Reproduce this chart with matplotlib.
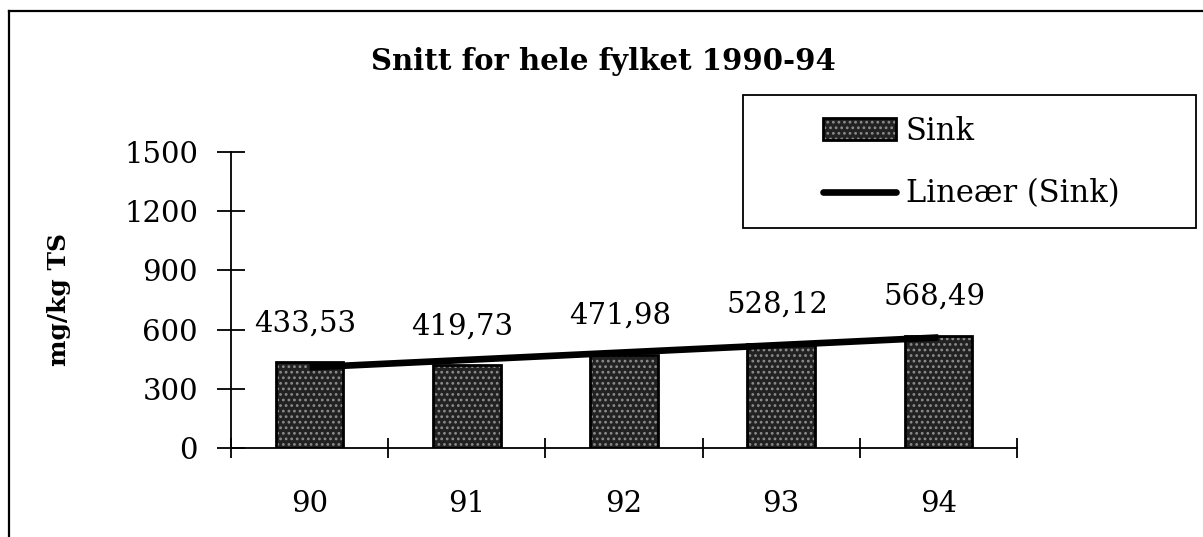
import numpy as np
import matplotlib
matplotlib.use("Agg")
import matplotlib.pyplot as plt
from matplotlib.patches import Patch, Rectangle
from matplotlib.lines import Line2D
from matplotlib.legend_handler import HandlerTuple

# ---- data ----
categories = ["90", "91", "92", "93", "94"]
sink_values = [433.53, 419.73, 471.98, 528.12, 568.49]
y_ticks = [0, 300, 600, 900, 1200, 1500]
title_text = "Snitt for hele fylket 1990-94"
y_label = "mg/kg TS"
series_label = "Sink"
trend_label = "Lineær (Sink)"

plt.rcParams['font.family'] = ['DejaVu Serif']
plt.rcParams['hatch.linewidth'] = 1.2

W, H = 1203, 537
fig = plt.figure(figsize=(W / 100, H / 100), dpi=100)
fig.patch.set_facecolor('white')

def fx(px):
    return px / W

def fy(py):
    return 1 - py / H

ax = fig.add_axes([fx(231), fy(448), fx(1017) - fx(231), fy(152) - fy(448)])
ax.set_facecolor('none')

FS = 21

x = np.arange(len(categories))
bar_w = 0.43
face = '#222222'
dots = '#8c8c8c'
ax.bar(x, sink_values, width=bar_w, color=face, edgecolor=dots, hatch='...',
       linewidth=0, zorder=2)
ax.bar(x, sink_values, width=bar_w, fill=False, edgecolor='black',
       linewidth=2.0, zorder=3)

coef = np.polyfit(x, sink_values, 1)
trend = np.polyval(coef, x)
ax.plot(x, trend, color='black', lw=4.8, solid_capstyle='butt', zorder=4)

for xi, v in zip(x, sink_values):
    ax.annotate(f"{v:.2f}".replace('.', ','), (xi, v), xytext=(-3, 18),
                textcoords='offset points', ha='center', va='bottom',
                fontsize=FS, zorder=5)

ax.set_xlim(-0.5, len(categories) - 0.5)
ax.set_ylim(0, 1500)
ax.set_yticks(y_ticks)
ax.set_yticklabels([str(t) for t in y_ticks], fontsize=FS)
ax.set_xticks(np.arange(len(categories) + 1) - 0.5)
ax.set_xticklabels([])
ax.set_xticks(x, minor=True)
ax.set_xticklabels(categories, minor=True, fontsize=FS)
ax.tick_params(axis='y', direction='inout', length=19.5, width=1.3, pad=14)
ax.tick_params(axis='x', which='major', direction='inout', length=15, width=1.3)
ax.tick_params(axis='x', which='minor', length=0, pad=30)

for s in ['top', 'right']:
    ax.spines[s].set_visible(False)
for s in ['left', 'bottom']:
    ax.spines[s].set_linewidth(1.3)

fig.text(fx(603), fy(62), title_text, ha='center', va='center',
         fontsize=21, fontweight='bold')
fig.text(fx(59), fy(299), y_label, ha='center', va='center', rotation=90,
         fontsize=18, fontweight='bold')

# outer frame (extends beyond right and bottom edge)
fig.add_artist(Line2D([fx(9), 1.0], [fy(11), fy(11)], transform=fig.transFigure,
                      color='black', lw=1.6))
fig.add_artist(Line2D([fx(9), fx(9)], [fy(11), 0.0], transform=fig.transFigure,
                      color='black', lw=1.6))

# legend frame
fig.add_artist(Rectangle((fx(743), fy(228)), fx(1196) - fx(743), fy(95) - fy(228),
                         transform=fig.transFigure, fill=False, edgecolor='black',
                         lw=1.3))

h_fill = Patch(facecolor=face, edgecolor=dots, hatch='...', linewidth=0)
h_edge = Patch(fill=False, edgecolor='black', linewidth=2.0)
h_line = Line2D([], [], color='black', lw=4.8, solid_capstyle='round')
fig.legend([(h_fill, h_edge), h_line], [series_label, trend_label],
           handler_map={tuple: HandlerTuple(ndivide=1)},
           loc='center left', bbox_to_anchor=(fx(823), fy(162.5)),
           frameon=False, borderpad=0, fontsize=22, handlelength=2.4,
           handleheight=0.72, handletextpad=0.3, labelspacing=1.04,
           borderaxespad=0)

fig.savefig('out.png', dpi=100, facecolor='white')
